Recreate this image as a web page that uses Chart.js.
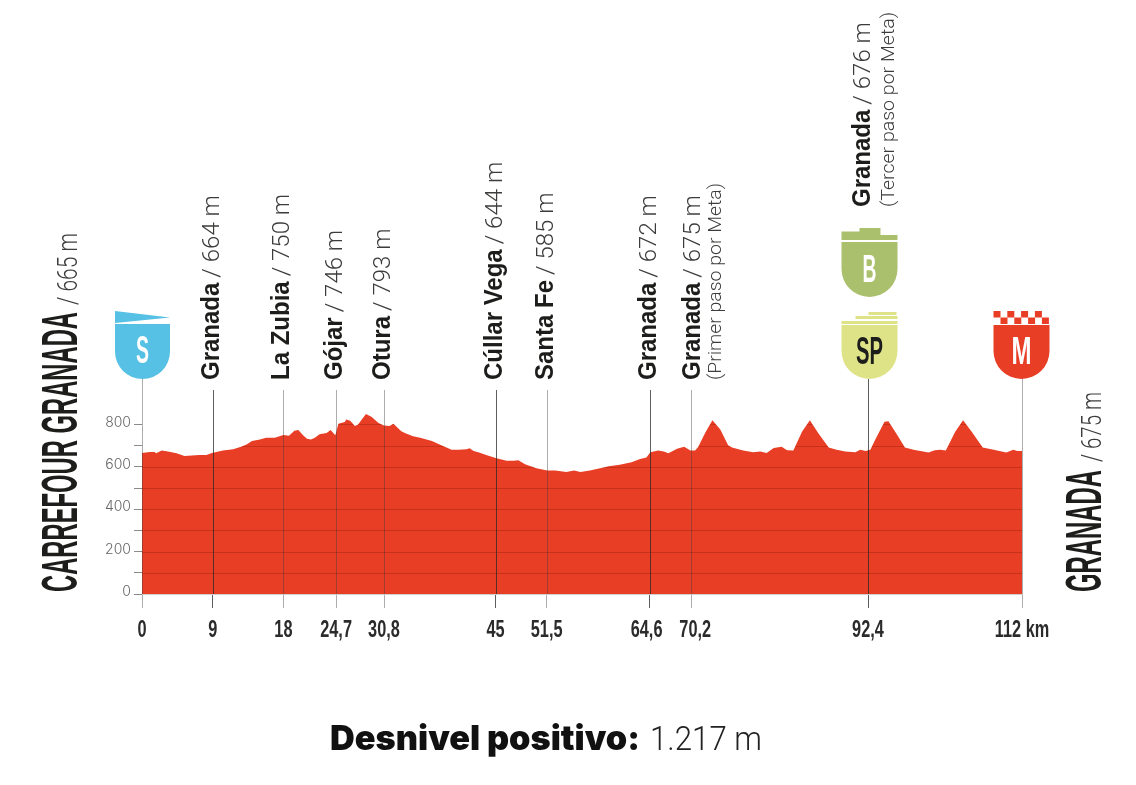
<!DOCTYPE html>
<html>
<head>
<meta charset="utf-8">
<style>
  html, body { margin: 0; background: #fff; }
  canvas { display: block; }
</style>
<script src="https://cdn.jsdelivr.net/npm/chart.js@4"></script>
</head>
<body>
<canvas id="profile" width="1136" height="785"></canvas>
<script>
const profileKm = [0, 1, 1.6, 1.8, 2.5, 3.3, 4.4, 5.4, 7.3, 8.2, 8.9, 10.3, 11.6, 12.6, 13.3, 14, 15, 15.8, 16.9, 18, 18.7, 19.4, 19.9, 20.5, 21, 21.5, 22, 22.6, 23.5, 24, 24.6, 25, 25.8, 26, 26.5, 27.1, 27.5, 28.5, 29.2, 30.1, 30.8, 31.5, 32, 33, 33.6, 34.5, 35.4, 36.9, 38.1, 39.4, 40.3, 41.3, 41.7, 42.2, 42.8, 43.9, 45, 46.4, 47.3, 47.9, 48.75, 50.2, 51.6, 52.6, 54, 55, 55.8, 57, 58.3, 59.4, 60.8, 62.3, 63.4, 64.2, 64.7, 65.7, 66.4, 67, 68.1, 69, 69.8, 70.4, 70.8, 71.7, 72.6, 73.6, 74.6, 75.1, 76.5, 77.8, 78.7, 79.5, 80.4, 81.4, 82.1, 82.9, 84, 85, 86.1, 87.4, 88.4, 89.5, 90.8, 91.4, 92.1, 92.7, 93.3, 94.5, 95, 96, 97.1, 98.2, 100.1, 100.9, 101.6, 102.3, 103.5, 104.5, 105.6, 107, 108.4, 110, 110.9, 111.4, 112];
const profileM = [665, 670, 670, 664, 677, 672, 664, 651, 656, 656, 665, 677, 683, 694, 705, 722, 729, 737, 737, 750, 746, 770, 773, 749, 732, 729, 737, 754, 760, 774, 749, 803, 811, 823, 817, 793, 800, 849, 836, 807, 795, 792, 803, 768, 757, 744, 737, 722, 702, 681, 681, 683, 688, 674, 669, 655, 642, 628, 629, 631, 612, 593, 582, 582, 576, 582, 576, 582, 593, 603, 610, 621, 637, 644, 669, 677, 672, 664, 685, 694, 677, 677, 694, 762, 820, 776, 702, 691, 677, 669, 672, 665, 689, 694, 678, 677, 765, 820, 757, 691, 681, 672, 669, 681, 675, 681, 726, 812, 815, 757, 691, 681, 667, 678, 681, 677, 765, 820, 765, 691, 681, 667, 681, 675, 675];

// km marks along the axis. The 70,2 mark sits at about km 69.9 on the printed profile
const markKm = [0, 9, 18, 24.7, 30.8, 45, 51.5, 64.6, 69.9, 92.4, 112];
const markLabels = ['0', '9', '18', '24,7', '30,8', '45', '51,5', '64,6', '70,2', '92,4', '112 km'];
const markDark = [false, true, false, false, false, true, false, true, false, true, false];

const elevationTicks = [0, 100, 200, 300, 400, 500, 600, 700, 800];

const placeKm = [9, 18, 24.7, 30.8, 45, 51.5, 64.6, 69.9, 92.4];
const placeNames = ['Granada', 'La Zubia', 'Gójar', 'Otura', 'Cúllar Vega', 'Santa Fe', 'Granada', 'Granada', 'Granada'];
const placeHeights = ['/ 664 m', '/ 750 m', '/ 746 m', '/ 793 m', '/ 644 m', '/ 585 m', '/ 672 m', '/ 675 m', '/ 676 m'];

const NAME_FONT = 'bold 25px "Liberation Sans"';
const LIGHT_FONT = '300 24px Roboto';
const NOTE_FONT = '300 19px Roboto';
const COND_BOLD = 'bold 50px "Liberation Sans"';
const TICK_FONT = 'bold 24px "Liberation Sans"';
const RED = '#e83e25';

// rotate, then squeeze the text to the length it has in the picture
function putText(ctx, text, x, y, font, color, len, vertical) {
  ctx.save();
  ctx.translate(x, y);
  if (vertical) ctx.rotate(-Math.PI / 2);
  ctx.font = font;
  ctx.fillStyle = color;
  ctx.textBaseline = 'alphabetic';
  ctx.textAlign = 'left';
  if (len) ctx.scale(len / ctx.measureText(text).width, 1);
  ctx.fillText(text, 0, 0);
  ctx.restore();
}

function textWidth(ctx, text, font) {
  ctx.font = font;
  return ctx.measureText(text).width;
}

function shieldPath(ctx, cx, top, halfW, bottom) {
  ctx.beginPath();
  ctx.moveTo(cx - halfW, top);
  ctx.lineTo(cx + halfW, top);
  ctx.lineTo(cx + halfW, bottom - halfW);
  ctx.arc(cx, bottom - halfW, halfW, 0, Math.PI);
  ctx.closePath();
  ctx.fill();
}

function shieldLetter(ctx, letter, cx, y, color, len) {
  putText(ctx, letter, cx - len / 2, y, 'bold 38px "Liberation Sans"', color, len, false);
}

function drawShields(ctx, x) {
  // start
  let cx = x.getPixelForValue(0) + 0.5;
  ctx.fillStyle = '#56c1e4';
  shieldPath(ctx, cx, 324, 27.5, 379);
  ctx.beginPath();
  ctx.moveTo(cx - 27.5, 311);
  ctx.lineTo(cx + 27.5, 317.5);
  ctx.lineTo(cx - 27.5, 323);
  ctx.closePath();
  ctx.fill();
  shieldLetter(ctx, 'S', cx, 363, '#fff', 13);

  // bonus
  cx = x.getPixelForValue(92.4) + 1.5;
  ctx.fillStyle = '#abc06c';
  shieldPath(ctx, cx, 242, 28, 297);
  ctx.fillRect(cx - 28, 231.5, 56, 8.5);
  ctx.fillRect(cx - 10, 228, 21, 4);
  ctx.fillStyle = '#fff';
  ctx.fillRect(cx + 11, 231, 18, 4);
  shieldLetter(ctx, 'B', cx, 282, '#fff', 14);

  // sprint
  ctx.fillStyle = '#dfe388';
  shieldPath(ctx, cx, 325, 28, 379);
  ctx.fillRect(cx - 28, 321, 56, 3);
  ctx.fillRect(cx - 14, 316, 42, 3);
  ctx.fillRect(cx - 1, 312, 28, 3);
  shieldLetter(ctx, 'SP', cx, 364, '#1d1d1b', 27);

  // finish
  cx = x.getPixelForValue(112) - 0.5;
  ctx.fillStyle = RED;
  shieldPath(ctx, cx, 325, 28, 379);
  for (let i = 0; i < 4; i++) {
    ctx.fillRect(cx - 28 + i * 13.8, 311, 7, 6.5);
    ctx.fillRect(cx - 21 + i * 13.8, 317.5, 7, 6.5);
  }
  shieldLetter(ctx, 'M', cx, 364, '#fff', 20);
}

const profileLabels = {
  id: 'profileLabels',
  afterDatasetsDraw(chart) {
    const { ctx, scales: { x, y }, chartArea } = chart;

    // horizontal lines only show inside the red area
    ctx.save();
    ctx.globalCompositeOperation = 'source-atop';
    ctx.strokeStyle = 'rgba(150,25,5,0.4)';
    ctx.lineWidth = 1;
    y.ticks.forEach(t => {
      if (t.value === 0) return;
      const py = Math.round(y.getPixelForValue(t.value)) + 0.5;
      ctx.beginPath();
      ctx.moveTo(chartArea.left, py);
      ctx.lineTo(chartArea.right, py);
      ctx.stroke();
    });
    ctx.restore();

    // vertical lines from the foot of each label down to the axis
    markKm.forEach((km, i) => {
      const px = Math.round(x.getPixelForValue(km)) + 0.5;
      const top = (i === 0 || i === 9 || i === 10) ? 379 : 390;
      ctx.strokeStyle = markDark[i] ? 'rgba(40,40,40,0.75)' : 'rgba(60,60,60,0.42)';
      ctx.lineWidth = 1;
      ctx.beginPath();
      ctx.moveTo(px, top);
      ctx.lineTo(px, chartArea.bottom);
      ctx.stroke();
    });

    // km labels of the axis, squeezed as in the print; 64,6 and 70,2 are pushed apart
    x.ticks.forEach((t, i) => {
      const len = textWidth(ctx, t.label, TICK_FONT) * 0.68;
      const nudge = i === 7 ? -3 : i === 8 ? 4 : 0;
      putText(ctx, t.label, x.getPixelForTick(i) - len / 2 + nudge, 637, TICK_FONT, '#2b2b2b', len, false);
    });

    drawShields(ctx, x);

    // place names
    placeNames.forEach((name, i) => {
      const bx = x.getPixelForValue(placeKm[i]) + (i === 7 ? 9 : i === 8 ? 2 : 6);
      const foot = i === 8 ? 207 : 380;
      const w = textWidth(ctx, name, NAME_FONT) * 0.96;
      putText(ctx, name, bx, foot, NAME_FONT, '#1d1d1b', w, true);
      putText(ctx, placeHeights[i], bx, foot - w - 5, LIGHT_FONT, '#3c3c3b', 0, true);
    });
    putText(ctx, '(Primer paso por Meta)', 721, 380, NOTE_FONT, '#3c3c3b', 197, true);
    putText(ctx, '(Tercer paso por Meta)', 894, 207, NOTE_FONT, '#3c3c3b', 195, true);

    // start and finish
    putText(ctx, 'CARREFOUR GRANADA', 77, 592, COND_BOLD, '#1d1d1b', 280, true);
    putText(ctx, '/ 665 m', 77, 305, '300 28px Roboto', '#3c3c3b', 72, true);
    putText(ctx, 'GRANADA', 1101, 592, COND_BOLD, '#1d1d1b', 122, true);
    putText(ctx, '/ 675 m', 1101, 462, '300 28px Roboto', '#3c3c3b', 70, true);

    // climbing total
    putText(ctx, 'Desnivel positivo:', 330, 750, '900 34px Inter', '#111', 310, false);
    putText(ctx, '1.217 m', 650, 750, '300 33px Roboto', '#222', 112, false);
  }
};

new Chart(document.getElementById('profile').getContext('2d'), {
  type: 'line',
  data: {
    datasets: [{
      data: profileKm.map((km, i) => ({ x: km, y: profileM[i] })),
      borderWidth: 0,
      backgroundColor: RED,
      fill: 'origin',
      pointRadius: 0,
      tension: 0,
    }]
  },
  options: {
    responsive: false,
    animation: false,
    layout: { padding: { left: 100, right: 114, top: 382, bottom: 0 } },
    plugins: { legend: { display: false }, tooltip: { enabled: false } },
    scales: {
      x: {
        type: 'linear',
        min: 0,
        max: 112,
        afterFit: s => { s.height = 191; },
        afterBuildTicks: s => { s.ticks = markKm.map(v => ({ value: v })); },
        grid: {
          drawOnChartArea: false,
          tickLength: 14,
          tickColor: c => (markDark[c.index] ? 'rgba(40,40,40,0.75)' : 'rgba(60,60,60,0.42)'),
        },
        border: { color: '#cfcfcf' },
        ticks: {
          display: false,
          autoSkip: false,
          callback: (v, i) => markLabels[i],
        },
      },
      y: {
        min: 0,
        max: 1000,
        afterFit: s => { s.width = 42; },
        afterBuildTicks: s => { s.ticks = elevationTicks.map(v => ({ value: v })); },
        grid: { drawOnChartArea: false, tickLength: 8, tickColor: '#8a8a8a' },
        border: { display: false },
        ticks: {
          padding: 3,
          labelOffset: -2,
          color: '#666',
          font: { family: 'Inter', size: 14, weight: 300 },
          callback: v => (v % 200 === 0 ? v : ''),
        },
      },
    },
  },
  plugins: [profileLabels],
});
</script>
</body>
</html>
